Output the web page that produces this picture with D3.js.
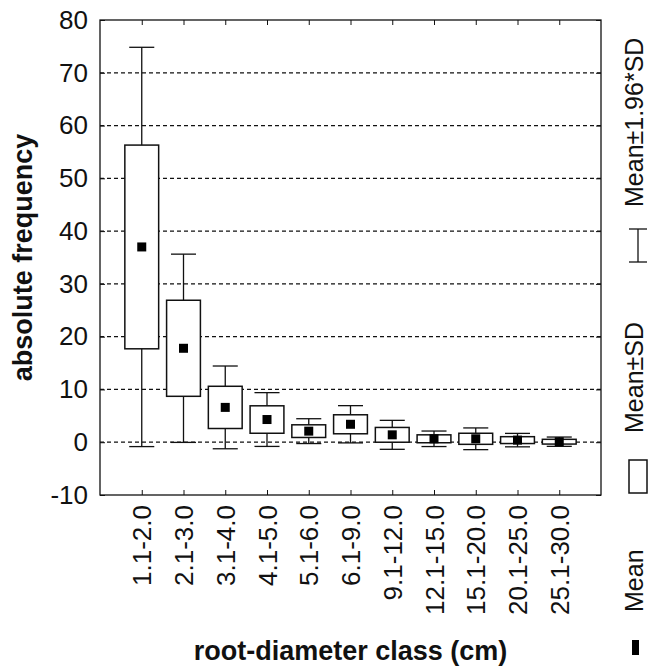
<!DOCTYPE html>
<html>
<head>
<meta charset="utf-8">
<script src="https://cdn.jsdelivr.net/npm/d3@7"></script>
<style>
  body { margin: 0; background: #fff; }
  svg { display: block; font-family: "Liberation Sans", Arial, sans-serif; }
</style>
</head>
<body>
<svg id="chart" width="649" height="666"></svg>
<script>
// Root-diameter classes and their statistics
const categories = ['1.1-2.0', '2.1-3.0', '3.1-4.0', '4.1-5.0', '5.1-6.0', '6.1-9.0',
  '9.1-12.0', '12.1-15.0', '15.1-20.0', '20.1-25.0', '25.1-30.0'];
const means = [37.0, 17.8, 6.6, 4.3, 2.1, 3.4, 1.4, 0.65, 0.65, 0.4, 0.1];
const sds = [19.3, 9.1, 4.0, 2.6, 1.2, 1.8, 1.4, 0.75, 1.05, 0.65, 0.45];
const yTicks = [-10, 0, 10, 20, 30, 40, 50, 60, 70, 80];
const gridValues = [0, 10, 20, 30, 40, 50, 60, 70];
const legendLabels = ['Mean±1.96*SD', 'Mean±SD', 'Mean'];

class BoxWhiskerChart {
  constructor() {
    this.svg = d3.select('#chart');
    this.left = 100;
    this.right = 601;
    this.top = 20;
    this.bottom = 495;
    this.rows = categories.map((c, i) => ({
      cat: c,
      mean: means[i],
      sd: sds[i]
    }));
    this.setupScales();
    this.renderGrid();
    this.renderBoxes();
    this.renderAxes();
    this.renderLegend();
  }

  setupScales() {
    this.x = d3.scalePoint()
      .domain(categories)
      .range([this.left, this.right])
      .padding(1);
    this.y = d3.scaleLinear()
      .domain([-10, 80])
      .range([this.bottom, this.top]);
  }

  renderGrid() {
    this.svg.append('g')
      .selectAll('line')
      .data(gridValues)
      .enter()
      .append('line')
      .attr('x1', this.left)
      .attr('x2', this.right)
      .attr('y1', d => this.y(d))
      .attr('y2', d => this.y(d))
      .style('stroke', '#111')
      .style('stroke-width', 1.2)
      .style('stroke-dasharray', '4,3');
  }

  renderBoxes() {
    const step = this.x.step();
    const boxW = step * 0.81;
    const capW = step * 0.6;
    const y = this.y;

    const g = this.svg.append('g')
      .selectAll('g')
      .data(this.rows)
      .enter()
      .append('g')
      .attr('transform', d => `translate(${this.x(d.cat)},0)`);

    // whiskers: mean +/- 1.96*SD
    g.append('line')
      .attr('x1', 0).attr('x2', 0)
      .attr('y1', d => y(d.mean + 1.96 * d.sd))
      .attr('y2', d => y(d.mean - 1.96 * d.sd))
      .style('stroke', '#111')
      .style('stroke-width', 1.3);

    g.selectAll('.cap')
      .data(d => [d.mean + 1.96 * d.sd, d.mean - 1.96 * d.sd])
      .enter()
      .append('line')
      .attr('class', 'cap')
      .attr('x1', -capW / 2).attr('x2', capW / 2)
      .attr('y1', v => y(v)).attr('y2', v => y(v))
      .style('stroke', '#111')
      .style('stroke-width', 1.3);

    // boxes: mean +/- SD
    g.append('rect')
      .attr('x', -boxW / 2)
      .attr('width', boxW)
      .attr('y', d => y(d.mean + d.sd))
      .attr('height', d => y(d.mean - d.sd) - y(d.mean + d.sd))
      .style('fill', '#fff')
      .style('stroke', '#111')
      .style('stroke-width', 1.5);

    // mean marker
    g.append('rect')
      .attr('x', -4.5)
      .attr('y', d => y(d.mean) - 4.5)
      .attr('width', 9)
      .attr('height', 9)
      .style('fill', '#000');
  }

  renderAxes() {
    const left = this.svg.append('g')
      .attr('transform', `translate(${this.left},0)`)
      .call(d3.axisLeft(this.y).tickValues(yTicks).tickSize(-5).tickPadding(12)
        .tickFormat(d => String(d)));
    left.attr('font-size', 26).attr('font-family', null);

    this.svg.append('g')
      .attr('transform', `translate(${this.right},0)`)
      .call(d3.axisRight(this.y).tickValues(yTicks).tickSize(-5).tickFormat(''));

    this.svg.append('g')
      .attr('transform', `translate(0,${this.top})`)
      .call(d3.axisTop(this.x).tickSize(-5).tickFormat(''));

    const bottom = this.svg.append('g')
      .attr('transform', `translate(0,${this.bottom})`)
      .call(d3.axisBottom(this.x).tickSize(-5));
    bottom.attr('font-size', 26).attr('font-family', null);
    bottom.selectAll('text')
      .attr('y', 0)
      .attr('x', -10)
      .attr('dy', '0.35em')
      .attr('transform', 'rotate(-90)')
      .style('text-anchor', 'end');

    this.svg.selectAll('.domain').remove();
    this.svg.selectAll('.tick line').style('stroke', '#111');
    this.svg.selectAll('.tick text').style('fill', '#111');

    // plot frame
    this.svg.append('rect')
      .attr('x', this.left)
      .attr('y', this.top)
      .attr('width', this.right - this.left)
      .attr('height', this.bottom - this.top)
      .style('fill', 'none')
      .style('stroke', '#111')
      .style('stroke-width', 1.3);

    this.svg.append('text')
      .attr('transform', `translate(32,${(this.top + this.bottom) / 2}) rotate(-90)`)
      .attr('text-anchor', 'middle')
      .style('font-size', '27px')
      .style('font-weight', 'bold')
      .style('fill', '#111')
      .text('absolute frequency');

    this.svg.append('text')
      .attr('x', (this.left + this.right) / 2)
      .attr('y', 660)
      .attr('text-anchor', 'middle')
      .style('font-size', '27px')
      .style('font-weight', 'bold')
      .style('fill', '#111')
      .text('root-diameter class (cm)');
  }

  renderLegend() {
    const lg = this.svg.append('g');
    const cx = 638;
    const textStarts = [207, 433, 612];

    lg.selectAll('text')
      .data(legendLabels)
      .enter()
      .append('text')
      .attr('transform', (d, i) => `translate(643,${textStarts[i]}) rotate(-90)`)
      .style('font-size', '25px')
      .style('fill', '#111')
      .text(d => d);

    // whisker symbol
    const wsym = lg.append('g').style('stroke', '#111').style('stroke-width', 1.3);
    wsym.append('line').attr('x1', cx).attr('x2', cx).attr('y1', 229).attr('y2', 262);
    wsym.append('line').attr('x1', cx - 9).attr('x2', cx + 9).attr('y1', 229).attr('y2', 229);
    wsym.append('line').attr('x1', cx - 9).attr('x2', cx + 9).attr('y1', 262).attr('y2', 262);

    // box symbol
    lg.append('rect')
      .attr('x', cx - 9).attr('y', 460)
      .attr('width', 18).attr('height', 33)
      .style('fill', '#fff')
      .style('stroke', '#111')
      .style('stroke-width', 1.5);

    // mean symbol
    lg.append('rect')
      .attr('x', 632).attr('y', 640)
      .attr('width', 7).attr('height', 15)
      .style('fill', '#000');
  }
}

new BoxWhiskerChart();
</script>
</body>
</html>
